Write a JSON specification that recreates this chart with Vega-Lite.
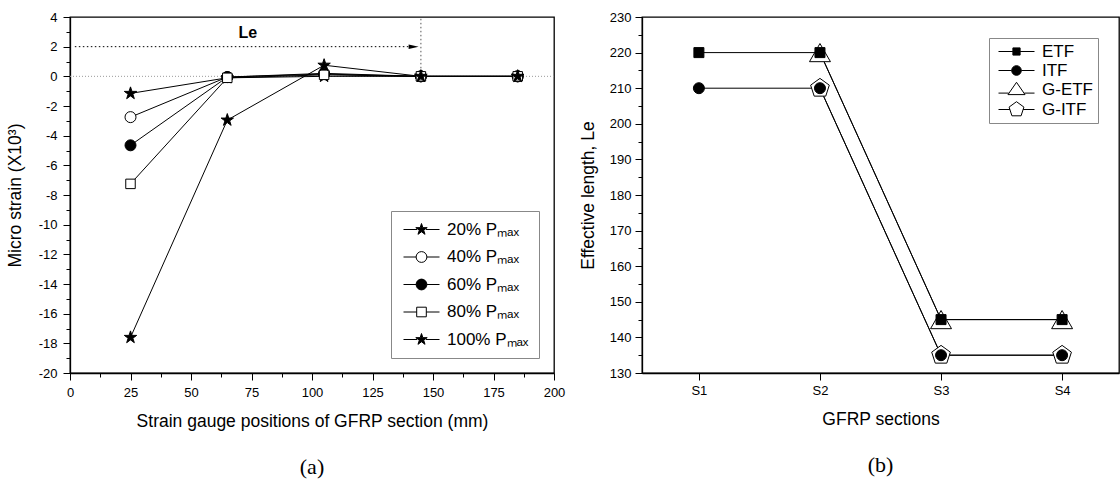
{
  "$schema": "https://vega.github.io/schema/vega-lite/v6.json",
  "background": "white",
  "padding": {"left": 5, "top": 10, "right": 0, "bottom": 2},
  "spacing": 88,
  "bounds": "flush",
  "datasets": {
    "strain": [
      {"pos": 25, "strain": -1.15, "load": "20% Pₘₐₓ"},
      {"pos": 65, "strain": -0.1, "load": "20% Pₘₐₓ"},
      {"pos": 105, "strain": 0.0, "load": "20% Pₘₐₓ"},
      {"pos": 145, "strain": 0.0, "load": "20% Pₘₐₓ"},
      {"pos": 185, "strain": 0.0, "load": "20% Pₘₐₓ"},
      {"pos": 25, "strain": -2.75, "load": "40% Pₘₐₓ"},
      {"pos": 65, "strain": -0.05, "load": "40% Pₘₐₓ"},
      {"pos": 105, "strain": 0.2, "load": "40% Pₘₐₓ"},
      {"pos": 145, "strain": 0.0, "load": "40% Pₘₐₓ"},
      {"pos": 185, "strain": 0.0, "load": "40% Pₘₐₓ"},
      {"pos": 25, "strain": -4.65, "load": "60% Pₘₐₓ"},
      {"pos": 65, "strain": -0.05, "load": "60% Pₘₐₓ"},
      {"pos": 105, "strain": 0.15, "load": "60% Pₘₐₓ"},
      {"pos": 145, "strain": 0.0, "load": "60% Pₘₐₓ"},
      {"pos": 185, "strain": 0.0, "load": "60% Pₘₐₓ"},
      {"pos": 25, "strain": -7.25, "load": "80% Pₘₐₓ"},
      {"pos": 65, "strain": -0.1, "load": "80% Pₘₐₓ"},
      {"pos": 105, "strain": 0.1, "load": "80% Pₘₐₓ"},
      {"pos": 145, "strain": 0.0, "load": "80% Pₘₐₓ"},
      {"pos": 185, "strain": 0.0, "load": "80% Pₘₐₓ"},
      {"pos": 25, "strain": -17.6, "load": "100% Pₘₐₓ"},
      {"pos": 65, "strain": -2.95, "load": "100% Pₘₐₓ"},
      {"pos": 105, "strain": 0.75, "load": "100% Pₘₐₓ"},
      {"pos": 145, "strain": 0.0, "load": "100% Pₘₐₓ"},
      {"pos": 185, "strain": 0.0, "load": "100% Pₘₐₓ"}
    ],
    "sections": [
      {"section": "S2", "le": 220, "load": "G-ETF"},
      {"section": "S3", "le": 145, "load": "G-ETF"},
      {"section": "S4", "le": 145, "load": "G-ETF"},
      {"section": "S2", "le": 210, "load": "G-ITF"},
      {"section": "S3", "le": 135, "load": "G-ITF"},
      {"section": "S4", "le": 135, "load": "G-ITF"},
      {"section": "S1", "le": 220, "load": "ETF"},
      {"section": "S2", "le": 220, "load": "ETF"},
      {"section": "S3", "le": 145, "load": "ETF"},
      {"section": "S4", "le": 145, "load": "ETF"},
      {"section": "S1", "le": 210, "load": "ITF"},
      {"section": "S2", "le": 210, "load": "ITF"},
      {"section": "S3", "le": 135, "load": "ITF"},
      {"section": "S4", "le": 135, "load": "ITF"}
    ]
  },
  "hconcat": [
    {
      "width": 484,
      "height": 356,
      "title": {"text": "(a)", "orient": "bottom", "font": "Liberation Serif", "fontSize": 22, "fontWeight": "normal", "color": "black", "offset": 27},
      "layer": [
        {
          "data": {"values": [{"zero": 0}]},
          "mark": {"type": "rule", "color": "#9a9a9a", "strokeDash": [1, 2], "strokeWidth": 1},
          "encoding": {"y": {"field": "zero", "type": "quantitative", "scale": {"domain": [-20, 4], "nice": false, "zero": false}}}
        },
        {
          "data": {"values": [{"from": 2, "to": 142, "level": 2}]},
          "mark": {"type": "rule", "color": "black", "strokeDash": [1.5, 2.5], "strokeWidth": 1},
          "encoding": {
            "x": {"field": "from", "type": "quantitative", "scale": {"domain": [0, 200], "nice": false, "zero": false}},
            "x2": {"field": "to"},
            "y": {"field": "level", "type": "quantitative", "scale": {"domain": [-20, 4], "nice": false, "zero": false}}
          }
        },
        {
          "data": {"values": [{"at": 145, "lo": 0, "hi": 4}]},
          "mark": {"type": "rule", "color": "#555", "strokeDash": [1.5, 2.5], "strokeWidth": 1},
          "encoding": {
            "x": {"field": "at", "type": "quantitative", "scale": {"domain": [0, 200], "nice": false, "zero": false}},
            "y": {"field": "lo", "type": "quantitative", "scale": {"domain": [-20, 4], "nice": false, "zero": false}},
            "y2": {"field": "hi"}
          }
        },
        {
          "data": {"values": [{"tip": 142, "level": 2}]},
          "mark": {"type": "point", "shape": "M-1,-0.45L1,0L-1,0.45Z", "filled": true, "color": "black", "opacity": 1, "size": 100},
          "encoding": {
            "x": {"field": "tip", "type": "quantitative", "scale": {"domain": [0, 200], "nice": false, "zero": false}},
            "y": {"field": "level", "type": "quantitative", "scale": {"domain": [-20, 4], "nice": false, "zero": false}}
          }
        },
        {
          "data": {"values": [{"lx": 73.5, "ly": 2.9, "label": "Le"}]},
          "mark": {"type": "text", "font": "Liberation Sans", "fontSize": 16, "fontWeight": "bold", "color": "black"},
          "encoding": {
            "x": {"field": "lx", "type": "quantitative", "scale": {"domain": [0, 200], "nice": false, "zero": false}},
            "y": {"field": "ly", "type": "quantitative", "scale": {"domain": [-20, 4], "nice": false, "zero": false}},
            "text": {"field": "label"}
          }
        },
        {
          "data": {"name": "strain"},
          "mark": {"type": "line", "color": "black", "strokeWidth": 1},
          "encoding": {
            "x": {
              "field": "pos", "type": "quantitative",
              "scale": {"domain": [0, 200], "nice": false, "zero": false},
              "title": "Strain gauge positions of GFRP section (mm)",
              "axis": {
                "values": [0, 12.5, 25, 37.5, 50, 62.5, 75, 87.5, 100, 112.5, 125, 137.5, 150, 162.5, 175, 187.5, 200],
                "tickCount": 100,
                "labelExpr": "datum.value % 25 === 0 ? '' + datum.value : ''",
                "tickSize": {"condition": {"test": "datum.value % 25 === 0", "value": 7}, "value": 4},
                "labelPadding": 6, "titlePadding": 13, "labelFlush": false, "labelOverlap": false
              }
            },
            "y": {
              "field": "strain", "type": "quantitative",
              "scale": {"domain": [-20, 4], "nice": false, "zero": false},
              "title": "Micro strain (X10³)",
              "axis": {
                "values": [-20, -19, -18, -17, -16, -15, -14, -13, -12, -11, -10, -9, -8, -7, -6, -5, -4, -3, -2, -1, 0, 1, 2, 3, 4],
                "tickCount": 100,
                "labelExpr": "datum.value % 2 === 0 ? '' + datum.value : ''",
                "tickSize": {"condition": {"test": "datum.value % 2 === 0", "value": 7}, "value": 4},
                "labelPadding": 6, "titlePadding": 14, "labelFlush": false, "labelOverlap": false
              }
            },
            "detail": {"field": "load"}
          }
        },
        {
          "data": {"name": "strain"},
          "mark": {"type": "point", "filled": true, "stroke": "black", "strokeWidth": 1, "opacity": 1},
          "encoding": {
            "x": {"field": "pos", "type": "quantitative", "scale": {"domain": [0, 200], "nice": false, "zero": false}},
            "y": {"field": "strain", "type": "quantitative", "scale": {"domain": [-20, 4], "nice": false, "zero": false}},
            "shape": {
              "field": "load", "type": "nominal",
              "scale": {
                "domain": ["20% Pₘₐₓ", "40% Pₘₐₓ", "60% Pₘₐₓ", "80% Pₘₐₓ", "100% Pₘₐₓ", "ETF", "ITF", "G-ETF", "G-ITF"],
                "range": [
                  "M0,-1L0.2245,-0.309L0.951,-0.309L0.363,0.118L0.588,0.809L0,0.382L-0.588,0.809L-0.363,0.118L-0.951,-0.309L-0.2245,-0.309Z",
                  "circle", "circle", "square",
                  "M0,-1L0.2245,-0.309L0.951,-0.309L0.363,0.118L0.588,0.809L0,0.382L-0.588,0.809L-0.363,0.118L-0.951,-0.309L-0.2245,-0.309Z",
                  "square", "circle", "triangle-up", "M0,-1L0.951,-0.309L0.588,0.809L-0.588,0.809L-0.951,-0.309Z"
                ]
              },
              "legend": null
            },
            "fill": {
              "field": "load", "type": "nominal",
              "scale": {
                "domain": ["20% Pₘₐₓ", "40% Pₘₐₓ", "60% Pₘₐₓ", "80% Pₘₐₓ", "100% Pₘₐₓ", "ETF", "ITF", "G-ETF", "G-ITF"],
                "range": ["black", "white", "black", "white", "black", "black", "black", "white", "white"]
              },
              "legend": {
                "title": null, "orient": "bottom-right", "offset": 15, "padding": 10,
                "values": ["20% Pₘₐₓ", "40% Pₘₐₓ", "60% Pₘₐₓ", "80% Pₘₐₓ", "100% Pₘₐₓ"],
                "strokeColor": "#888888", "fillColor": "white",
                "labelFont": "Liberation Sans", "labelFontSize": 17, "labelColor": "black", "labelLimit": 300,
                "symbolSize": 144, "symbolOffset": 12, "labelOffset": 17, "rowPadding": 9.5,
                "symbolStrokeColor": "black", "symbolStrokeWidth": 1,
                "encoding": {
                  "symbols": {
                    "shape": {
                      "condition": [
                        {"test": "datum.value === '40% Pₘₐₓ' || datum.value === '60% Pₘₐₓ'", "value": "M-3,0L-0.9,0M0.9,0L3,0M0.9,0A0.9,0.9,0,1,1,-0.9,0A0.9,0.9,0,1,1,0.9,0Z"},
                        {"test": "datum.value === '80% Pₘₐₓ'", "value": "M-3,0L-0.8,0M0.8,0L3,0M-0.8,-0.8L0.8,-0.8L0.8,0.8L-0.8,0.8Z"}
                      ],
                      "value": "M-3,0L-0.75,0M0.75,0L3,0M0,-1L0.2245,-0.309L0.951,-0.309L0.363,0.118L0.588,0.809L0,0.382L-0.588,0.809L-0.363,0.118L-0.951,-0.309L-0.2245,-0.309Z"
                    },
                    "stroke": {"value": "black"},
                    "strokeWidth": {"value": 1},
                    "opacity": {"value": 1}
                  }
                }
              }
            },
            "size": {
              "field": "load", "type": "nominal",
              "scale": {
                "type": "ordinal",
                "domain": ["20% Pₘₐₓ", "40% Pₘₐₓ", "60% Pₘₐₓ", "80% Pₘₐₓ", "100% Pₘₐₓ", "ETF", "ITF", "G-ETF", "G-ITF"],
                "range": [170, 121, 121, 90, 170, 100, 121, 440, 385]
              },
              "legend": null
            }
          }
        }
      ]
    },
    {
      "width": 477,
      "height": 356,
      "title": {"text": "(b)", "orient": "bottom", "font": "Liberation Serif", "fontSize": 22, "fontWeight": "normal", "color": "black", "offset": 27},
      "data": {"name": "sections"},
      "layer": [
        {
          "mark": {"type": "line", "color": "black", "strokeWidth": 1},
          "encoding": {
            "x": {
              "field": "section", "type": "ordinal",
              "scale": {"type": "point", "domain": ["S1", "S2", "S3", "S4"], "padding": 0.47},
              "title": "GFRP sections",
              "axis": {"labelAngle": 0, "tickSize": 7, "labelPadding": 4, "titlePadding": 13}
            },
            "y": {
              "field": "le", "type": "quantitative",
              "scale": {"domain": [130, 230], "nice": false, "zero": false},
              "title": "Effective length, Le",
              "axis": {
                "values": [130, 135, 140, 145, 150, 155, 160, 165, 170, 175, 180, 185, 190, 195, 200, 205, 210, 215, 220, 225, 230],
                "tickCount": 100,
                "labelExpr": "datum.value % 10 === 0 ? '' + datum.value : ''",
                "tickSize": {"condition": {"test": "datum.value % 10 === 0", "value": 7}, "value": 4},
                "labelPadding": 4, "titlePadding": 12, "labelFlush": false, "labelOverlap": false
              }
            },
            "detail": {"field": "load"}
          }
        },
        {
          "mark": {"type": "point", "filled": true, "stroke": "black", "strokeWidth": 1, "opacity": 1},
          "encoding": {
            "x": {"field": "section", "type": "ordinal", "scale": {"type": "point", "domain": ["S1", "S2", "S3", "S4"], "padding": 0.47}},
            "y": {"field": "le", "type": "quantitative", "scale": {"domain": [130, 230], "nice": false, "zero": false}},
            "shape": {
              "field": "load", "type": "nominal",
              "scale": {
                "domain": ["20% Pₘₐₓ", "40% Pₘₐₓ", "60% Pₘₐₓ", "80% Pₘₐₓ", "100% Pₘₐₓ", "ETF", "ITF", "G-ETF", "G-ITF"],
                "range": [
                  "M0,-1L0.2245,-0.309L0.951,-0.309L0.363,0.118L0.588,0.809L0,0.382L-0.588,0.809L-0.363,0.118L-0.951,-0.309L-0.2245,-0.309Z",
                  "circle", "circle", "square",
                  "M0,-1L0.2245,-0.309L0.951,-0.309L0.363,0.118L0.588,0.809L0,0.382L-0.588,0.809L-0.363,0.118L-0.951,-0.309L-0.2245,-0.309Z",
                  "square", "circle", "triangle-up", "M0,-1L0.951,-0.309L0.588,0.809L-0.588,0.809L-0.951,-0.309Z"
                ]
              },
              "legend": null
            },
            "fill": {
              "field": "load", "type": "nominal",
              "scale": {
                "domain": ["20% Pₘₐₓ", "40% Pₘₐₓ", "60% Pₘₐₓ", "80% Pₘₐₓ", "100% Pₘₐₓ", "ETF", "ITF", "G-ETF", "G-ITF"],
                "range": ["black", "white", "black", "white", "black", "black", "black", "white", "white"]
              },
              "legend": {
                "title": null, "orient": "top-right", "offset": 21, "padding": 5,
                "values": ["ETF", "ITF", "G-ETF", "G-ITF"],
                "strokeColor": "#888888", "fillColor": "white",
                "labelFont": "Liberation Sans", "labelFontSize": 17, "labelColor": "black",
                "symbolSize": 144, "symbolOffset": 14, "labelOffset": 17, "rowPadding": 1,
                "symbolStrokeColor": "black", "symbolStrokeWidth": 1,
                "encoding": {
                  "symbols": {
                    "shape": {
                      "condition": [
                        {"test": "datum.value === 'ETF'", "value": "M-3,0L-0.6,0M0.6,0L3,0M-0.6,-0.6L0.6,-0.6L0.6,0.6L-0.6,0.6Z"},
                        {"test": "datum.value === 'ITF'", "value": "M-3,0L-0.8,0M0.8,0L3,0M0.8,0A0.8,0.8,0,1,1,-0.8,0A0.8,0.8,0,1,1,0.8,0Z"},
                        {"test": "datum.value === 'G-ETF'", "value": "M-3,0.6L-1.3,0.6M1.3,0.6L3,0.6M0,-1.2L1.42,0.85L-1.42,0.85Z"}
                      ],
                      "value": "M-3,0L-1.1,0M1.1,0L3,0M0,-1.3L1.236,-0.402L0.764,1.052L-0.764,1.052L-1.236,-0.402Z"
                    },
                    "stroke": {"value": "black"},
                    "strokeWidth": {"value": 1},
                    "opacity": {"value": 1}
                  }
                }
              }
            },
            "size": {
              "field": "load", "type": "nominal",
              "scale": {
                "type": "ordinal",
                "domain": ["20% Pₘₐₓ", "40% Pₘₐₓ", "60% Pₘₐₓ", "80% Pₘₐₓ", "100% Pₘₐₓ", "ETF", "ITF", "G-ETF", "G-ITF"],
                "range": [170, 121, 121, 90, 170, 100, 121, 440, 385]
              },
              "legend": null
            }
          }
        }
      ]
    }
  ],
  "config": {
    "font": "Liberation Sans",
    "view": {"stroke": "black", "strokeWidth": 1.3},
    "axis": {
      "domainColor": "black", "domainWidth": 1.3, "tickColor": "black", "tickWidth": 1,
      "labelColor": "black", "titleColor": "black",
      "labelFont": "Liberation Sans", "titleFont": "Liberation Sans",
      "labelFontSize": 13, "titleFontSize": 17.5, "titleFontWeight": "normal", "grid": false,
      "labelOverlap": false
    }
  }
}
